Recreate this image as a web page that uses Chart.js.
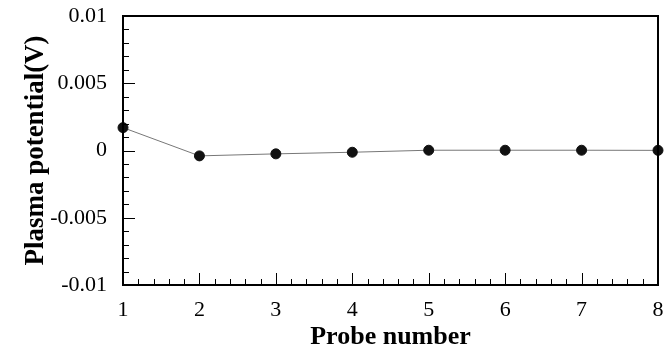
<!DOCTYPE html>
<html>
<head>
<meta charset="utf-8">
<script src="https://cdn.jsdelivr.net/npm/chart.js@4/dist/chart.umd.min.js"></script>
<style>
  html, body { margin: 0; padding: 0; background: #fff; }
  #wrap { width: 665px; height: 353px; }
</style>
</head>
<body>
<div id="wrap"><canvas id="myChart"></canvas></div>
<script>
const probes = [1, 2, 3, 4, 5, 6, 7, 8];
const potential = [0.0017, -0.0004, -0.00025, -0.00013, 0.00002, 0.00002, 0.00002, 0.00001];
const yTicks = [-0.01, -0.005, 0, 0.005, 0.01];
const xTicks = [1, 2, 3, 4, 5, 6, 7, 8];

const ctx = document.getElementById('myChart');

// frame + inward tick marks, like the original plotting software
const frameTicks = {
    id: 'frameTicks',
    afterDraw(chart) {
        const c = chart.ctx;
        const a = chart.chartArea;
        const xs = chart.scales.x;
        const ys = chart.scales.y;
        c.save();
        c.strokeStyle = '#000';
        c.lineWidth = 1;
        // minor/major ticks on x
        for (let v = 1; v <= 8.0001; v += 0.2) {
            const px = Math.round(xs.getPixelForValue(v)) + 0.5;
            const major = Math.abs(v - Math.round(v)) < 0.01;
            c.beginPath();
            c.moveTo(px, a.bottom);
            c.lineTo(px, a.bottom - (major ? 12 : 6));
            c.stroke();
        }
        // minor/major ticks on y
        for (let v = -0.01; v <= 0.01001; v += 0.001) {
            const py = Math.round(ys.getPixelForValue(v)) + 0.5;
            const major = Math.abs(v / 0.005 - Math.round(v / 0.005)) < 0.01;
            c.beginPath();
            c.moveTo(a.left, py);
            c.lineTo(a.left + (major ? 12 : 6), py);
            c.stroke();
        }
        c.lineWidth = 2;
        c.strokeRect(a.left, a.top, a.right - a.left, a.bottom - a.top);
        c.restore();
    }
};

new Chart(ctx, {
    type: 'line',
    data: {
        datasets: [{
            label: 'Plasma potential',
            data: probes.map((p, i) => ({ x: p, y: potential[i] })),
            borderColor: '#777777',
            borderWidth: 1,
            pointRadius: 5,
            pointBackgroundColor: '#111111',
            pointBorderColor: '#111111',
            tension: 0,
            clip: false
        }]
    },
    options: {
        responsive: true,
        maintainAspectRatio: false,
        animation: false,
        layout: { padding: { top: 16, right: 7, left: 0, bottom: 0 } },
        plugins: {
            legend: { display: false },
            tooltip: { enabled: false }
        },
        scales: {
            x: {
                type: 'linear',
                min: 1,
                max: 8,
                afterBuildTicks: s => { s.ticks = xTicks.map(v => ({ value: v })); },
                afterFit: s => { s.height = 68; s.paddingLeft = 0; s.paddingRight = 0; },
                grid: { display: false, drawTicks: false },
                border: { display: false },
                ticks: {
                    padding: 12,
                    color: '#000',
                    font: { family: 'Liberation Serif', size: 22 }
                },
                title: {
                    display: true,
                    text: 'Probe number',
                    color: '#000',
                    padding: { top: 0, bottom: 0 },
                    font: { family: 'Liberation Serif', size: 26, weight: 'bold' }
                }
            },
            y: {
                type: 'linear',
                min: -0.01,
                max: 0.01,
                afterBuildTicks: s => { s.ticks = yTicks.map(v => ({ value: v })); },
                afterFit: s => { s.width = 123; s.paddingTop = 0; s.paddingBottom = 0; },
                grid: { display: false, drawTicks: false },
                border: { display: false },
                ticks: {
                    padding: 16,
                    color: '#000',
                    font: { family: 'Liberation Serif', size: 22 },
                    callback: v => String(v)
                },
                title: {
                    display: true,
                    text: 'Plasma potential(V)',
                    color: '#000',
                    padding: { top: 20, bottom: 0 },
                    font: { family: 'Liberation Serif', size: 27, weight: 'bold' }
                }
            }
        }
    },
    plugins: [frameTicks]
});
</script>
</body>
</html>
